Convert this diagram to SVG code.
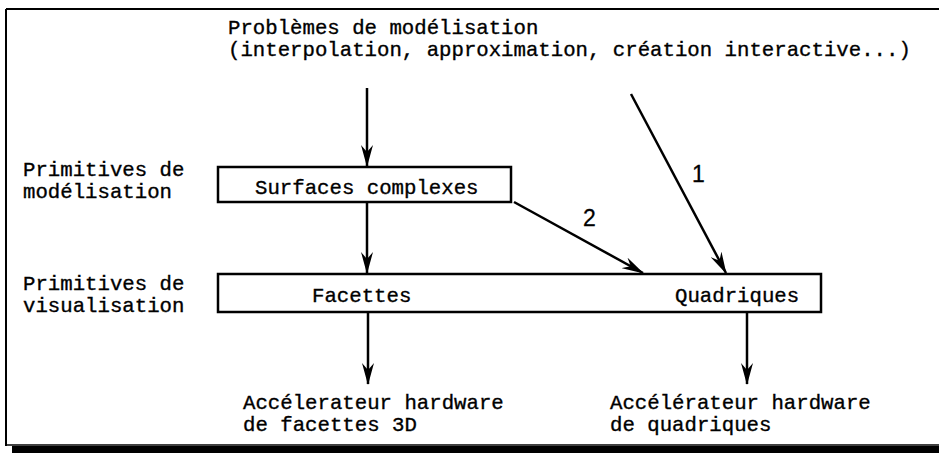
<svg xmlns="http://www.w3.org/2000/svg" width="939" height="453" viewBox="0 0 939 453">
<defs>
<style>
.t{font-family:"Liberation Mono","Courier New",monospace;font-size:20.7px;fill:#000;stroke:#000;stroke-width:0.35}
.n{font-family:"Liberation Sans",Arial,sans-serif;font-size:23px;fill:#000;stroke:#000;stroke-width:0.3}
.box{fill:#fff;stroke:#000;stroke-width:2.5}
.c{stroke:#000;stroke-width:2.5;fill:none}
</style>
<marker id="ah" viewBox="0 0 22 12" refX="21" refY="6" markerWidth="22" markerHeight="12" markerUnits="userSpaceOnUse" orient="auto">
<path d="M0,0 L22,6 L0,12 L7,6 Z" fill="#000"/>
</marker>
</defs>
<rect width="939" height="453" fill="#fff"/>
<g id="frame">
<line x1="6" y1="9" x2="939" y2="9" stroke="#000" stroke-width="2"/>
<line x1="6" y1="9" x2="6" y2="446" stroke="#000" stroke-width="2"/>
<line x1="6" y1="445" x2="939" y2="445" stroke="#000" stroke-width="1.5"/>
<rect x="12" y="446" width="927" height="7" fill="#000"/>
</g>
<g id="title">
<text class="t" x="228" y="34">Problèmes de modélisation</text>
<text class="t" x="228" y="56">(interpolation, approximation, création interactive...)</text>
</g>
<g id="label-modelisation">
<text class="t" x="23" y="176">Primitives de</text>
<text class="t" x="23" y="198">modélisation</text>
</g>
<g id="label-visualisation">
<text class="t" x="23" y="290">Primitives de</text>
<text class="t" x="23" y="312">visualisation</text>
</g>
<g id="surfaces">
<rect class="box" x="218" y="167" width="293" height="35"/>
<text class="t" x="255" y="194">Surfaces complexes</text>
</g>
<g id="visualisation">
<rect class="box" x="218" y="274" width="603" height="38"/>
<text class="t" x="312" y="302">Facettes</text>
<text class="t" x="675" y="302">Quadriques</text>
</g>
<g id="acc-facettes">
<text class="t" x="243" y="409">Accélerateur hardware</text>
<text class="t" x="243" y="431">de facettes 3D</text>
</g>
<g id="acc-quadriques">
<text class="t" x="610" y="409">Accélérateur hardware</text>
<text class="t" x="610" y="431">de quadriques</text>
</g>
<g id="connectors">
<line class="c" x1="367" y1="88" x2="367" y2="166" marker-end="url(#ah)"/>
<line class="c" x1="367" y1="202" x2="367" y2="273" marker-end="url(#ah)"/>
<line class="c" x1="631" y1="94" x2="726" y2="273" marker-end="url(#ah)"/>
<line class="c" x1="514" y1="202" x2="643" y2="273" marker-end="url(#ah)"/>
<line class="c" x1="368" y1="312" x2="368" y2="384" marker-end="url(#ah)"/>
<line class="c" x1="747" y1="312" x2="747" y2="384" marker-end="url(#ah)"/>
<text class="n" x="692" y="182">1</text>
<text class="n" x="583" y="226">2</text>
</g>
</svg>
